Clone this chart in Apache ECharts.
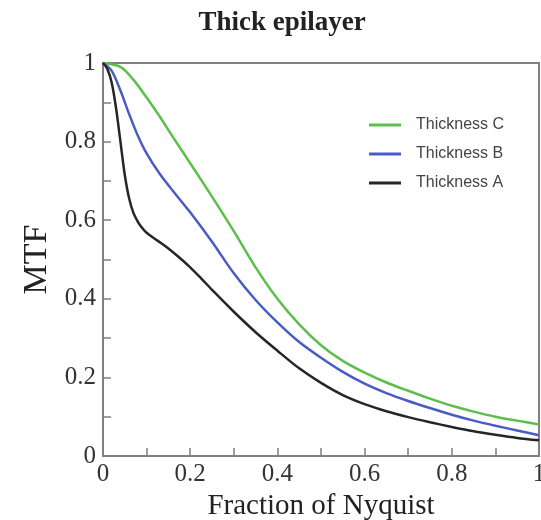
<!DOCTYPE html>
<html>
<head>
<meta charset="utf-8">
<script src="https://cdn.jsdelivr.net/npm/echarts@6/dist/echarts.min.js"></script>
<style>
  html, body { margin: 0; padding: 0; background: #fff; }
  #chart { width: 541px; height: 520px; }
</style>
</head>
<body>
<div id="chart"></div>
<script>
// MTF curves, [fraction of Nyquist, MTF]
const thicknessA = [
  [0, 1], [0.01, 0.985], [0.02, 0.95], [0.03, 0.885], [0.04, 0.80], [0.05, 0.715],
  [0.06, 0.655], [0.07, 0.618], [0.08, 0.596], [0.09, 0.58], [0.1, 0.568],
  [0.125, 0.548], [0.15, 0.528], [0.175, 0.505], [0.2, 0.48], [0.225, 0.452],
  [0.25, 0.423], [0.3, 0.367], [0.35, 0.315], [0.4, 0.268], [0.45, 0.223],
  [0.5, 0.186], [0.55, 0.155], [0.6, 0.132], [0.65, 0.114], [0.7, 0.099],
  [0.75, 0.086], [0.8, 0.074], [0.85, 0.063], [0.9, 0.054], [0.95, 0.046], [1, 0.04]
];
const thicknessB = [
  [0, 1], [0.02, 0.98], [0.04, 0.93], [0.06, 0.87], [0.08, 0.815], [0.1, 0.77],
  [0.13, 0.718], [0.16, 0.675], [0.2, 0.62], [0.25, 0.545], [0.3, 0.465],
  [0.35, 0.397], [0.4, 0.34], [0.45, 0.29], [0.5, 0.25], [0.55, 0.214],
  [0.6, 0.184], [0.65, 0.16], [0.7, 0.14], [0.75, 0.122], [0.8, 0.105],
  [0.85, 0.09], [0.9, 0.077], [0.95, 0.065], [1, 0.053]
];
const thicknessC = [
  [0, 1], [0.04, 0.99], [0.07, 0.957], [0.1, 0.912], [0.13, 0.864], [0.16, 0.812],
  [0.2, 0.745], [0.25, 0.66], [0.3, 0.572], [0.35, 0.48], [0.4, 0.4],
  [0.45, 0.335], [0.5, 0.282], [0.55, 0.242], [0.6, 0.212], [0.65, 0.187],
  [0.7, 0.166], [0.75, 0.146], [0.8, 0.128], [0.85, 0.113], [0.9, 0.1],
  [0.95, 0.09], [1, 0.08]
];
const seriesNames = ['Thickness C', 'Thickness B', 'Thickness A'];

const chart = echarts.init(document.getElementById('chart'));

const serif = 'Liberation Serif';
const axisColor = '#808080';

function tickText(v) {
  if (v === 0) return '0';
  if (v === 1) return '1';
  return v.toFixed(1);
}

const option = {
  animation: false,
  title: {
    text: 'Thick epilayer',
    left: 277,
    textAlign: 'center',
    top: 5,
    textStyle: { fontFamily: serif, fontWeight: 'bold', fontSize: 27, color: '#222' }
  },
  legend: {
    data: seriesNames,
    orient: 'vertical',
    left: 364,
    top: 112,
    itemWidth: 32,
    itemHeight: 3,
    itemGap: 13,
    icon: 'rect',
    textStyle: { fontFamily: 'Liberation Sans', fontSize: 16, color: '#444', padding: [0, 0, 0, 10] }
  },
  grid: {
    left: 103, right: 2, top: 63, bottom: 64,
    outerBoundsMode: 'none',
    show: true,
    borderColor: axisColor,
    borderWidth: 2
  },
  xAxis: {
    type: 'value',
    min: 0, max: 1, interval: 0.2,
    name: 'Fraction of Nyquist',
    nameLocation: 'middle',
    nameGap: 31,
    nameTextStyle: { fontFamily: serif, fontSize: 29, color: '#222' },
    axisLine: { show: true, lineStyle: { color: axisColor, width: 2 } },
    axisTick: { show: true, inside: true, length: 8, lineStyle: { color: axisColor, width: 1.5 } },
    minorTick: { show: true, splitNumber: 2, length: 8, lineStyle: { color: axisColor, width: 1.5 } },
    splitLine: { show: false },
    axisLabel: {
      formatter: tickText, margin: 6,
      fontFamily: serif, fontSize: 25, color: '#333'
    }
  },
  yAxis: {
    type: 'value',
    min: 0, max: 1, interval: 0.2,
    name: 'MTF',
    nameLocation: 'middle',
    nameGap: 44,
    nameRotate: 90,
    nameTextStyle: { fontFamily: serif, fontSize: 34, color: '#222' },
    axisLine: { show: true, lineStyle: { color: axisColor, width: 2 } },
    axisTick: { show: true, inside: true, length: 8, lineStyle: { color: axisColor, width: 1.5 } },
    minorTick: { show: true, splitNumber: 2, length: 8, lineStyle: { color: axisColor, width: 1.5 } },
    splitLine: { show: false },
    axisLabel: {
      formatter: tickText, margin: 7,
      fontFamily: serif, fontSize: 25, color: '#333'
    }
  },
  series: [
    {
      name: 'Thickness C', type: 'line', data: thicknessC,
      showSymbol: false, smooth: 0.3,
      lineStyle: { width: 2.5, color: '#5cbf4c' }, itemStyle: { color: '#5cbf4c' }
    },
    {
      name: 'Thickness B', type: 'line', data: thicknessB,
      showSymbol: false, smooth: 0.3,
      lineStyle: { width: 2.5, color: '#4a5cc4' }, itemStyle: { color: '#4a5cc4' }
    },
    {
      name: 'Thickness A', type: 'line', data: thicknessA,
      showSymbol: false, smooth: 0.3,
      lineStyle: { width: 2.5, color: '#262626' }, itemStyle: { color: '#262626' }
    }
  ]
};

chart.setOption(option);
</script>
</body>
</html>
